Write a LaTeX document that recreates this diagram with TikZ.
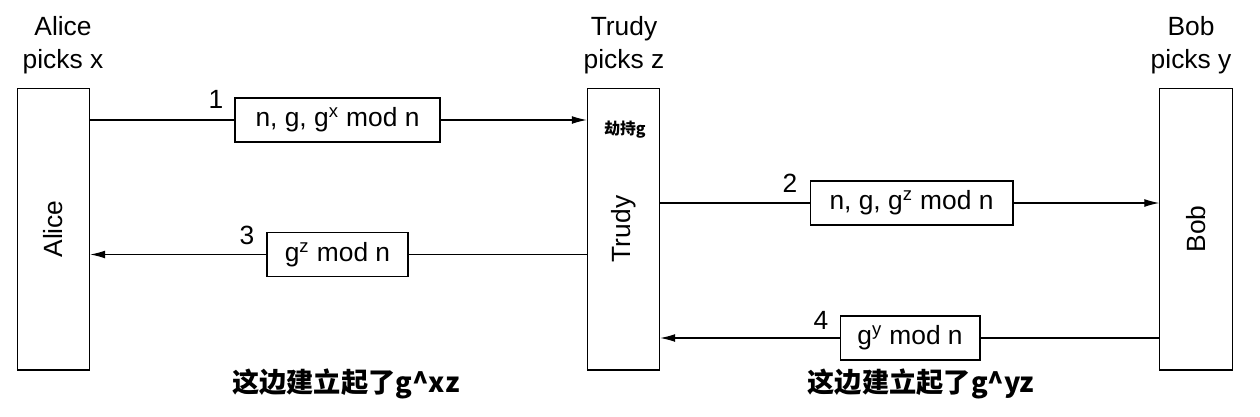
\documentclass[tikz,border=0pt]{standalone}
\usepackage{fontspec}
\setmainfont{Liberation Sans}
\newfontfamily\cjk{Noto Sans CJK SC}
\usetikzlibrary{arrows.meta}

\tikzset{
  party/.style={draw, line width=0.6pt, minimum width=1.45cm, minimum height=5.64cm, inner sep=0pt},
  msg/.style={draw, line width=0.6pt, minimum height=0.88cm, inner sep=0pt, font=\fontsize{15}{17}\selectfont},
  head/.style={align=center, font=\fontsize{15}{19}\selectfont},
  num/.style={font=\fontsize{15}{17}\selectfont},
  note/.style={font=\cjk\bfseries\fontsize{15.5}{18}\selectfont},
  flow/.style={line width=0.6pt, -{Latex[length=8.5pt,width=4.5pt]}}
}

\begin{document}
\begin{tikzpicture}[x=0.02cm, y=-0.02cm]
    \useasboundingbox (0,0) rectangle (1260,416);

    % parties
    \node[party] (alice) at (53.5,229) {};
    \node[party] (trudy) at (623.5,229) {};
    \node[party] (bob) at (1196,229) {};
    \node[num, rotate=90] at (alice.center) {Alice};
    \node[num, rotate=90] at (trudy.center) {Trudy};
    \node[num, rotate=90] at (bob.center) {Bob};

    \node[head] (ha) at (63,45) {Alice\\picks x};
    \node[head] (ht) at (624,45) {Trudy\\picks z};
    \node[head] (hb) at (1191,45) {Bob\\picks y};

    \node[font=\cjk\bfseries\fontsize{9}{11}\selectfont] (hijack) at (625,130) {劫持g};

    % messages
    \node[msg, minimum width=4.1cm] (m1) at (337.5,120) {n, g, g\textsuperscript{x} mod n};
    \node[msg, minimum width=4.06cm] (m2) at (911.5,203) {n, g, g\textsuperscript{z} mod n};
    \node[msg, minimum width=2.82cm] (m3) at (337.5,254.5) {g\textsuperscript{z} mod n};
    \node[msg, minimum width=2.8cm] (m4) at (910,338) {g\textsuperscript{y} mod n};

    \node[num] (n1) at (216,99) {1};
    \node[num] (n2) at (790,183) {2};
    \node[num] (n3) at (247,235) {3};
    \node[num] (n4) at (821,320) {4};

    \draw[line width=0.6pt] (alice.east |- m1) -- (m1.west);
    \draw[flow] (m1.east) -- (trudy.west |- m1);
    \draw[line width=0.6pt] (trudy.east |- m2) -- (m2.west);
    \draw[flow] (m2.east) -- (bob.west |- m2);
    \draw[line width=0.6pt] (trudy.west |- m3) -- (m3.east);
    \draw[flow] (m3.west) -- (alice.east |- m3);
    \draw[line width=0.6pt] (bob.west |- m4) -- (m4.east);
    \draw[flow] (m4.west) -- (trudy.east |- m4);

    % results
    \node[note] (ra) at (346,384) {这边建立起了g\^{}xz};
    \node[note] (rb) at (921,384) {这边建立起了g\^{}yz};
\end{tikzpicture}
\end{document}
